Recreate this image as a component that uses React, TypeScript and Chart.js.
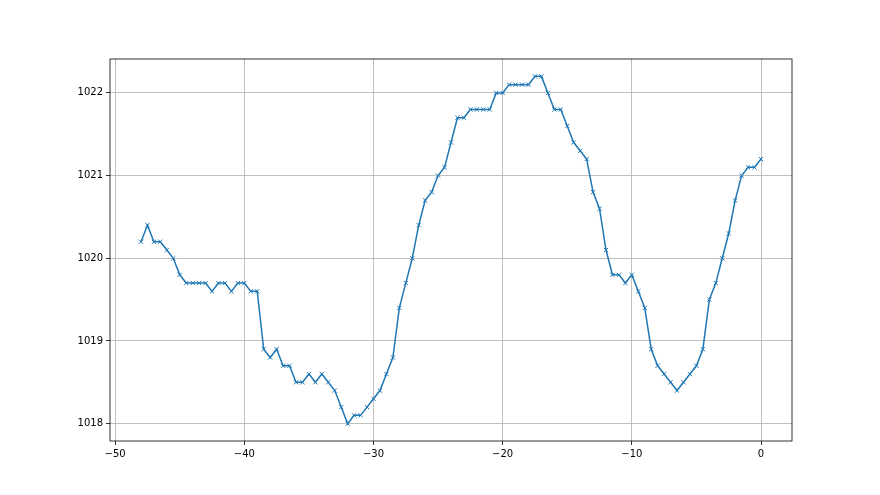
import React, { useEffect, useRef } from "react";
import { Chart, registerables } from "chart.js";

Chart.register(...registerables);

const xStart = -48;
const xStep = 0.5;
const pressure = [
  1020.2, 1020.4, 1020.2, 1020.2, 1020.1, 1020.0, 1019.8, 1019.7, 1019.7, 1019.7,
  1019.7, 1019.6, 1019.7, 1019.7, 1019.6, 1019.7, 1019.7, 1019.6, 1019.6, 1018.9,
  1018.8, 1018.9, 1018.7, 1018.7, 1018.5, 1018.5, 1018.6, 1018.5, 1018.6, 1018.5,
  1018.4, 1018.2, 1018.0, 1018.1, 1018.1, 1018.2, 1018.3, 1018.4, 1018.6, 1018.8,
  1019.4, 1019.7, 1020.0, 1020.4, 1020.7, 1020.8, 1021.0, 1021.1, 1021.4, 1021.7,
  1021.7, 1021.8, 1021.8, 1021.8, 1021.8, 1022.0, 1022.0, 1022.1, 1022.1, 1022.1,
  1022.1, 1022.2, 1022.2, 1022.0, 1021.8, 1021.8, 1021.6, 1021.4, 1021.3, 1021.2,
  1020.8, 1020.6, 1020.1, 1019.8, 1019.8, 1019.7, 1019.8, 1019.6, 1019.4, 1018.9,
  1018.7, 1018.6, 1018.5, 1018.4, 1018.5, 1018.6, 1018.7, 1018.9, 1019.5, 1019.7,
  1020.0, 1020.3, 1020.7, 1021.0, 1021.1, 1021.1, 1021.2,
];
const xTicks = [-50, -40, -30, -20, -10, 0];
const yTicks = [1018, 1019, 1020, 1021, 1022];

const frame = {
  id: "frame",
  afterDatasetsDraw(chart: any) {
    const { ctx, chartArea: a } = chart;
    ctx.save();
    ctx.strokeStyle = "#000";
    ctx.lineWidth = 0.8;
    ctx.strokeRect(a.left, a.top, a.right - a.left, a.bottom - a.top);
    ctx.restore();
  },
};

const fmt = (v: number) => (v < 0 ? "\u2212" + Math.abs(v) : String(v));

export default function App() {
  const ref = useRef<HTMLCanvasElement>(null);
  useEffect(() => {
    document.body.style.margin = "0";
    const data = pressure.map((y, i) => ({ x: xStart + i * xStep, y }));
    const font = { family: "DejaVu Sans", size: 10 };
    const chart = new Chart(ref.current!, {
      type: "line",
      data: {
        datasets: [
          {
            data,
            borderColor: "#1f77b4",
            borderWidth: 1.5,
            pointStyle: "crossRot",
            pointRadius: 3,
            pointBorderWidth: 1,
            pointBorderColor: "#1f77b4",
            pointBackgroundColor: "#1f77b4",
            tension: 0,
          },
        ],
      },
      options: {
        animation: false,
        responsive: false,
        layout: { padding: { left: 0, top: 59, right: 88, bottom: 0 } },
        plugins: { legend: { display: false }, tooltip: { enabled: false } },
        scales: {
          x: {
            type: "linear",
            min: -50.4,
            max: 2.4,
            afterBuildTicks: (s: any) => {
              s.ticks = xTicks.map((v) => ({ value: v }));
            },
            afterFit: (s: any) => {
              s.height = 54;
            },
            grid: { color: "#b0b0b0", lineWidth: 0.8, tickColor: "#000", tickLength: 4, drawTicks: true },
            border: { display: false },
            ticks: { color: "#000", font, padding: 3, maxRotation: 0, autoSkip: false, callback: (v: any) => fmt(Number(v)) },
          },
          y: {
            type: "linear",
            min: 1017.79,
            max: 1022.41,
            afterBuildTicks: (s: any) => {
              s.ticks = yTicks.map((v) => ({ value: v }));
            },
            afterFit: (s: any) => {
              s.width = 110;
            },
            grid: { color: "#b0b0b0", lineWidth: 0.8, tickColor: "#000", tickLength: 4, drawTicks: true },
            border: { display: false },
            ticks: { color: "#000", font, padding: 3, autoSkip: false, callback: (v: any) => String(v) },
          },
        },
      },
      plugins: [frame],
    });
    return () => chart.destroy();
  }, []);
  return (
    <div style={{ width: 880, height: 495 }}>
      <canvas ref={ref} width={880} height={495} style={{ width: 880, height: 495 }} />
    </div>
  );
}
